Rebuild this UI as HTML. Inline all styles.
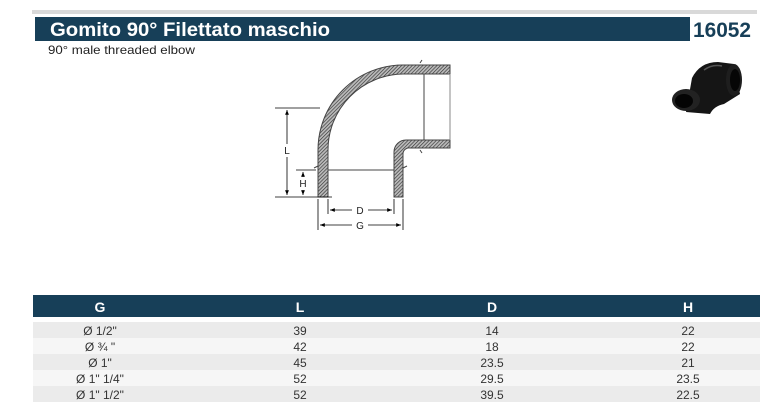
<!DOCTYPE html>
<html><head><meta charset="utf-8"><style>
html,body{margin:0;padding:0;background:#fff;}
svg{display:block;font-family:"Liberation Sans",Arial,sans-serif;}
</style></head><body>
<svg width="774" height="417" viewBox="0 0 774 417" xmlns="http://www.w3.org/2000/svg">
<defs>
<pattern id="h" width="2.5" height="2.5" patternUnits="userSpaceOnUse" patternTransform="rotate(45)">
<rect width="2.5" height="2.5" fill="#bbb"/><line x1="0" y1="0" x2="0" y2="2.5" stroke="#333" stroke-width="1.3"/>
</pattern>
<marker id="a" viewBox="0 0 10 10" refX="10" refY="5" markerWidth="6" markerHeight="6" orient="auto-start-reverse"><path d="M0,1 L10,5 L0,9 z" fill="#000"/></marker>
</defs>
<rect x="32" y="10" width="725" height="4" fill="#d9d9d9"/>
<rect x="35" y="17" width="655" height="24" fill="#173f58"/>
<text x="50" y="36" font-size="19" font-weight="bold" fill="#fff" textLength="280" lengthAdjust="spacingAndGlyphs">Gomito 90°  Filettato maschio</text>
<text x="693" y="37" font-size="21" font-weight="bold" fill="#173f58" textLength="58" lengthAdjust="spacingAndGlyphs">16052</text>
<text x="48" y="54" font-size="12" fill="#222" textLength="147" lengthAdjust="spacingAndGlyphs">90° male threaded elbow</text>

<!-- elbow drawing -->
<g stroke="#444" stroke-width="1">
<path d="M318,197 L318,150 A85,85 0 0 1 403,65 L450,65 L450,74 L403,74 A76,76 0 0 0 328,150 L328,197 Z" fill="url(#h)"/>
<path d="M394,197 L394,152 A12,12 0 0 1 406,140 L450,140 L450,148 L410,148 A6,6 0 0 0 403,154 L403,197 Z" fill="url(#h)"/>
<line x1="424" y1="74" x2="424" y2="140"/>
<line x1="450" y1="74" x2="450" y2="140" stroke="#888"/>
<line x1="328" y1="170" x2="394" y2="170"/>
<path d="M314,168 l4,-2 M403,168 l4,-2 M420,63 l2,-3 M420,150 l2,3" />
</g>
<g stroke="#000" stroke-width="0.8" fill="none">
<line x1="275" y1="108" x2="320" y2="108"/>
<line x1="275" y1="197" x2="332" y2="197"/>
<line x1="296" y1="170" x2="316" y2="170"/>
<line x1="287" y1="110" x2="287" y2="144" marker-start="url(#a)"/>
<line x1="287" y1="157" x2="287" y2="195" marker-end="url(#a)"/>
<line x1="303" y1="172" x2="303" y2="177" marker-start="url(#a)"/>
<line x1="303" y1="190" x2="303" y2="195" marker-end="url(#a)"/>
<line x1="318" y1="199" x2="318" y2="230"/>
<line x1="403" y1="199" x2="403" y2="230"/>
<line x1="328" y1="199" x2="328" y2="214"/>
<line x1="394" y1="199" x2="394" y2="214"/>
<line x1="330" y1="210" x2="352" y2="210" marker-start="url(#a)"/>
<line x1="368" y1="210" x2="392" y2="210" marker-end="url(#a)"/>
<line x1="320" y1="225" x2="352" y2="225" marker-start="url(#a)"/>
<line x1="368" y1="225" x2="401" y2="225" marker-end="url(#a)"/>
</g>
<g font-size="10" fill="#222" text-anchor="middle">
<text x="287" y="154">L</text>
<text x="303" y="187">H</text>
<text x="360" y="214">D</text>
<text x="360" y="229">G</text>
</g>

<!-- photo -->
<g>
<path d="M692,78 Q700,62 718,62 L734,64 L740,94 L724,104 Q714,106 710,114 L686,112 Z" fill="#151515"/>
<path d="M704,70 Q712,64 722,66" stroke="#555" stroke-width="1.5" fill="none"/>
<ellipse cx="734" cy="80" rx="8" ry="16" fill="#1e1e1e"/>
<ellipse cx="735" cy="80" rx="5" ry="11" fill="#060606"/>
<ellipse cx="686" cy="100" rx="14" ry="11" fill="#222"/>
<ellipse cx="684" cy="101" rx="9" ry="7" fill="#040404"/>
</g>

<!-- table -->
<rect x="33" y="295" width="727" height="22" fill="#173f58"/>
<g font-size="14" font-weight="bold" fill="#fff" text-anchor="middle">
<text x="100" y="312">G</text><text x="300" y="312">L</text><text x="492" y="312">D</text><text x="688" y="312">H</text>
</g>
<rect x="33" y="322" width="727" height="16" fill="#ebebeb"/>
<rect x="33" y="338" width="727" height="16" fill="#f6f6f6"/>
<rect x="33" y="354" width="727" height="16" fill="#ebebeb"/>
<rect x="33" y="370" width="727" height="16" fill="#f6f6f6"/>
<rect x="33" y="386" width="727" height="16" fill="#ebebeb"/>
<g font-size="12" fill="#333" text-anchor="middle">
<text x="100" y="335">Ø 1/2"</text><text x="300" y="335">39</text><text x="492" y="335">14</text><text x="688" y="335">22</text>
<text x="100" y="351">Ø ¾ "</text><text x="300" y="351">42</text><text x="492" y="351">18</text><text x="688" y="351">22</text>
<text x="100" y="367">Ø 1"</text><text x="300" y="367">45</text><text x="492" y="367">23.5</text><text x="688" y="367">21</text>
<text x="100" y="383">Ø 1" 1/4"</text><text x="300" y="383">52</text><text x="492" y="383">29.5</text><text x="688" y="383">23.5</text>
<text x="100" y="399">Ø 1" 1/2"</text><text x="300" y="399">52</text><text x="492" y="399">39.5</text><text x="688" y="399">22.5</text>
</g>
</svg>
</body></html>
